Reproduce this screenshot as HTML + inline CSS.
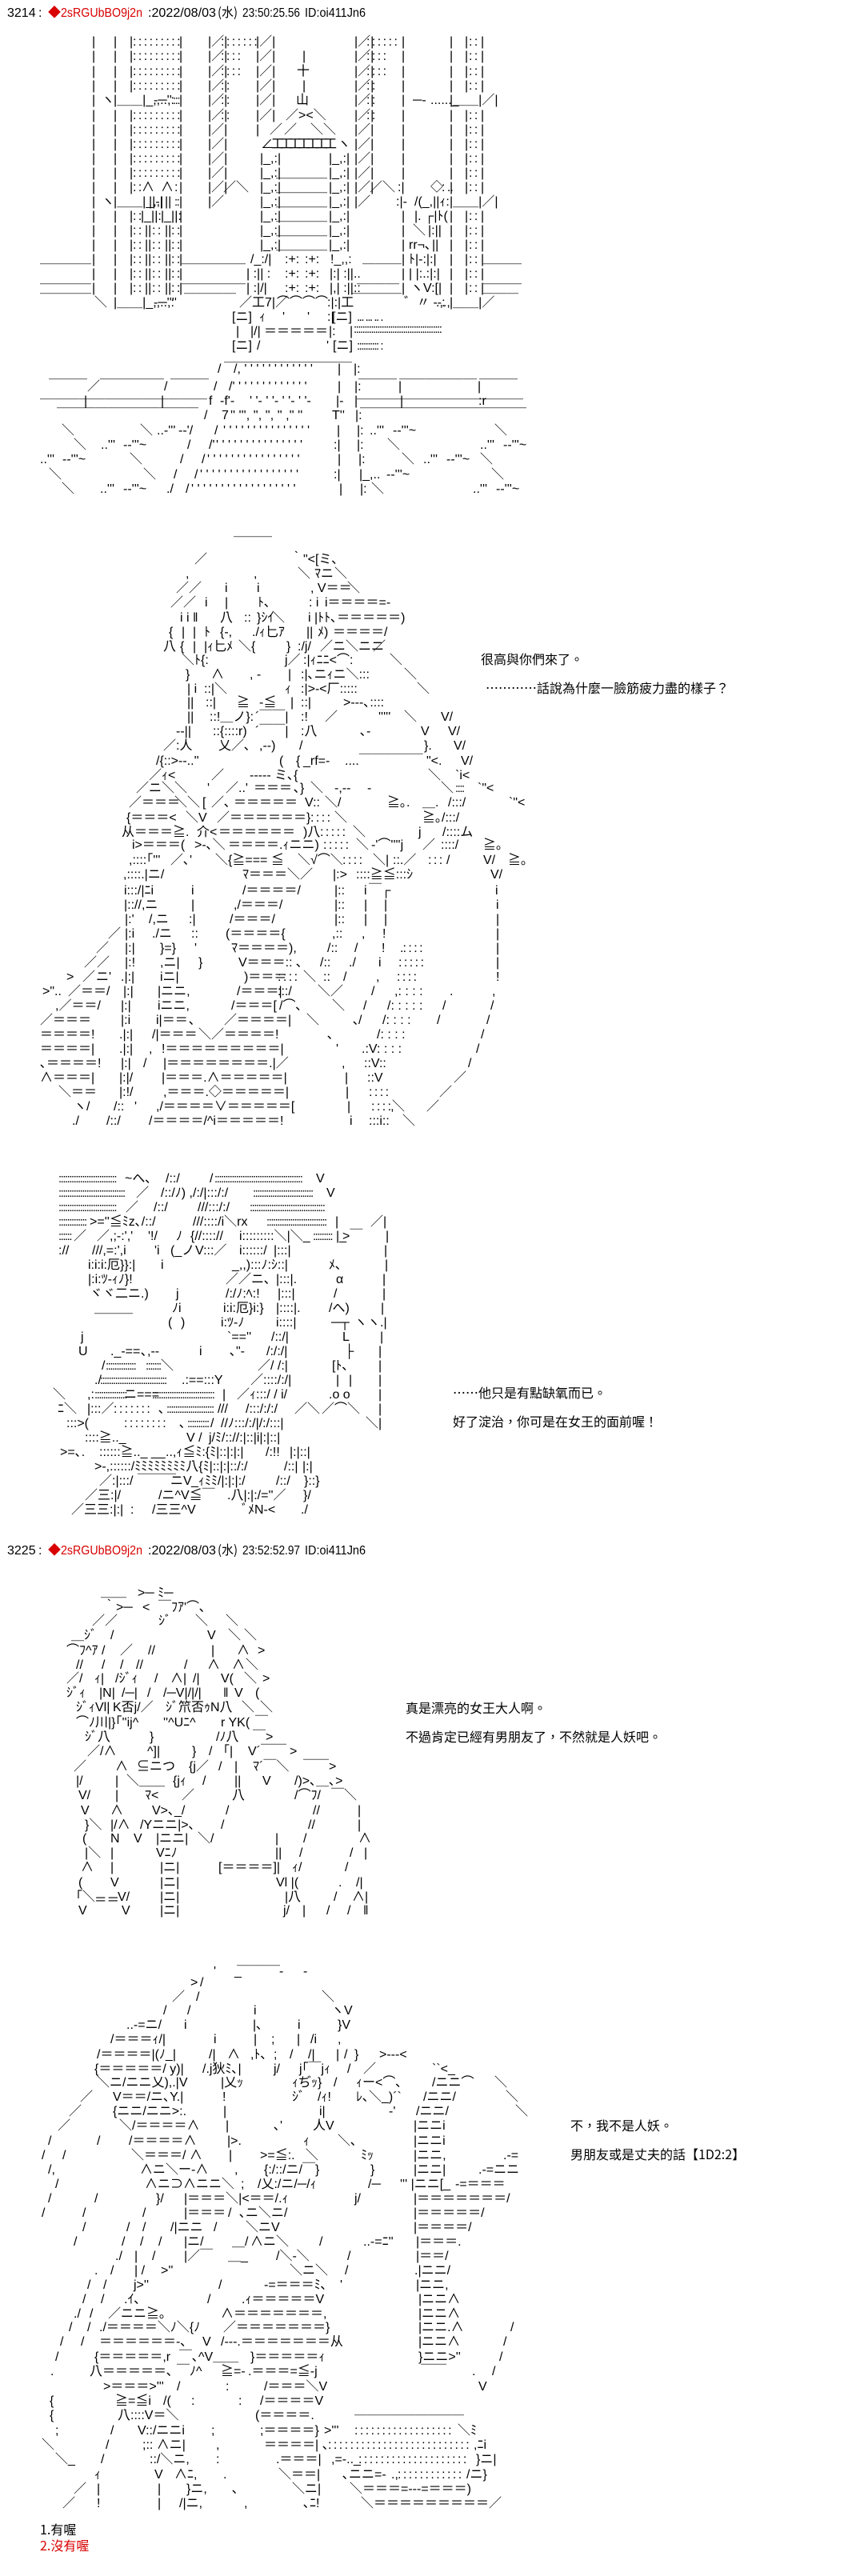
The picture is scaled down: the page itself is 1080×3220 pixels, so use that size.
<!DOCTYPE html>
<html lang="zh-Hant"><head><meta charset="utf-8"><title>3214-3225</title>
<style>
html,body{margin:0;padding:0;background:#fff}
svg{display:block;font-family:"Liberation Sans","Noto Sans CJK JP",sans-serif;font-size:16px;fill:#000;white-space:pre}
.d{letter-spacing:-1px}.e{letter-spacing:-1.5px;font-size:15px}.c{font-family:"Noto Sans CJK JP",sans-serif}
.t{font-family:"WenQuanYi Zen Hei","Noto Sans CJK TC",sans-serif}.r{fill:#d80000}
.s{letter-spacing:-5px}
</style></head><body>
<svg width="1080" height="3220" viewBox="0 0 1080 3220" xmlns="http://www.w3.org/2000/svg">
<!-- header 1 -->
<text y="21"><tspan x="9">3214</tspan><tspan x="48">:</tspan><tspan x="60" class="r">◆</tspan></text>
<text x="76" y="21" class="r" textLength="102" lengthAdjust="spacingAndGlyphs">2sRGUbBO9j2n</text>
<text x="185" y="21" textLength="85" lengthAdjust="spacingAndGlyphs">:2022/08/03</text>
<text x="272" y="21" class="c" textLength="25" lengthAdjust="spacingAndGlyphs">(水)</text>
<text x="303" y="21" textLength="72" lengthAdjust="spacingAndGlyphs">23:50:25.56</text>
<text x="381" y="21" textLength="76" lengthAdjust="spacingAndGlyphs">ID:oi411Jn6</text>

<!-- section 1: towers -->
<text y="57"><tspan x="115">|</tspan><tspan x="142">|</tspan><tspan x="162">|</tspan><tspan x="166" class="d">: : : : : : : : :</tspan><tspan x="224">|</tspan><tspan x="260">|／|</tspan><tspan x="276" class="d">: : : : : : :</tspan><tspan x="320">|／|</tspan><tspan x="443">|／|</tspan><tspan x="458" class="d">: : : : : :</tspan><tspan x="502">|</tspan><tspan x="562">|</tspan><tspan x="581">|</tspan><tspan x="586" class="d">: :</tspan><tspan x="601">|</tspan></text>
<text y="75"><tspan x="115">|</tspan><tspan x="142">|</tspan><tspan x="162">|</tspan><tspan x="166" class="d">: : : : : : : : :</tspan><tspan x="224">|</tspan><tspan x="260">|／|</tspan><tspan x="276" class="d">: : : :</tspan><tspan x="320">|／|</tspan><tspan x="378">|</tspan><tspan x="443">|／|</tspan><tspan x="458" class="d">: : : :</tspan><tspan x="502">|</tspan><tspan x="562">|</tspan><tspan x="581">|</tspan><tspan x="586" class="d">: :</tspan><tspan x="601">|</tspan></text>
<text y="94"><tspan x="115">|</tspan><tspan x="142">|</tspan><tspan x="162">|</tspan><tspan x="166" class="d">: : : : : : : : :</tspan><tspan x="224">|</tspan><tspan x="260">|／|</tspan><tspan x="276" class="d">: : : :</tspan><tspan x="320">|／|</tspan><tspan x="371">十</tspan><tspan x="443">|／|</tspan><tspan x="458" class="d">: : : :</tspan><tspan x="502">|</tspan><tspan x="562">|</tspan><tspan x="581">|</tspan><tspan x="586" class="d">: :</tspan><tspan x="601">|</tspan></text>
<text y="112"><tspan x="115">|</tspan><tspan x="142">|</tspan><tspan x="162">|</tspan><tspan x="166" class="d">: : : : : : : : :</tspan><tspan x="224">|</tspan><tspan x="260">|／|</tspan><tspan x="276" class="d">: :</tspan><tspan x="320">|／|</tspan><tspan x="378">|</tspan><tspan x="443">|／|</tspan><tspan x="458" class="d">: :</tspan><tspan x="502">|</tspan><tspan x="562">|</tspan><tspan x="581">|</tspan><tspan x="586" class="d">: :</tspan><tspan x="601">|</tspan></text>
<text y="130"><tspan x="115">|</tspan><tspan x="127">ヽ</tspan><tspan x="142">|＿＿|_,,..,:</tspan><tspan x="192">-─''</tspan><tspan x="216" class="e">:::</tspan><tspan x="224">|</tspan><tspan x="260">|／|</tspan><tspan x="276" class="d">: :</tspan><tspan x="320">|／|</tspan><tspan x="370">山</tspan><tspan x="443">|／|</tspan><tspan x="458" class="d">: :</tspan><tspan x="502">|</tspan><tspan x="516">─-</tspan><tspan x="538">......_</tspan><tspan x="562">|＿＿|／|</tspan></text>
<text y="149"><tspan x="115">|</tspan><tspan x="142">|</tspan><tspan x="162">|</tspan><tspan x="166" class="d">: : : : : : : : :</tspan><tspan x="224">|</tspan><tspan x="260">|／|</tspan><tspan x="276" class="d">: :</tspan><tspan x="320">|／|</tspan><tspan x="357">／&gt;&lt;＼</tspan><tspan x="443">|／|</tspan><tspan x="458" class="d">: :</tspan><tspan x="502">|</tspan><tspan x="562">|</tspan><tspan x="581">|</tspan><tspan x="586" class="d">: :</tspan><tspan x="601">|</tspan></text>
<text y="167"><tspan x="115">|</tspan><tspan x="142">|</tspan><tspan x="162">|</tspan><tspan x="166" class="d">: : : : : : : : :</tspan><tspan x="224">|</tspan><tspan x="260">|／|</tspan><tspan x="320">|</tspan><tspan x="337">／</tspan><tspan x="355">／</tspan><tspan x="388">＼＼</tspan><tspan x="443">|／|</tspan><tspan x="502">|</tspan><tspan x="562">|</tspan><tspan x="581">|</tspan><tspan x="586" class="d">: :</tspan><tspan x="601">|</tspan></text>
<text y="185"><tspan x="115">|</tspan><tspan x="142">|</tspan><tspan x="162">|</tspan><tspan x="166" class="d">: : : : : : : : :</tspan><tspan x="224">|</tspan><tspan x="260">|／|</tspan><tspan x="326">∠</tspan><tspan x="339" class="s">工工工工工工工</tspan><tspan x="422">ヽ</tspan><tspan x="443">|／|</tspan><tspan x="502">|</tspan><tspan x="562">|</tspan><tspan x="581">|</tspan><tspan x="586" class="d">: :</tspan><tspan x="601">|</tspan></text>
<text y="203"><tspan x="115">|</tspan><tspan x="142">|</tspan><tspan x="162">|</tspan><tspan x="166" class="d">: : : : : : : : :</tspan><tspan x="224">|</tspan><tspan x="260">|／|</tspan><tspan x="325">|_,:|</tspan><tspan x="411">|_,:|</tspan><tspan x="443">|／|</tspan><tspan x="502">|</tspan><tspan x="562">|</tspan><tspan x="581">|</tspan><tspan x="586" class="d">: :</tspan><tspan x="601">|</tspan></text>
<text y="221"><tspan x="115">|</tspan><tspan x="142">|</tspan><tspan x="162">|</tspan><tspan x="166" class="d">: : : : : : : : :</tspan><tspan x="224">|</tspan><tspan x="260">|／|</tspan><tspan x="325">|_,:|</tspan><tspan x="345">＿＿＿＿</tspan><tspan x="411">|_,:|</tspan><tspan x="443">|／|</tspan><tspan x="502">|</tspan><tspan x="562">|</tspan><tspan x="581">|</tspan><tspan x="586" class="d">: :</tspan><tspan x="601">|</tspan></text>
<text y="239"><tspan x="115">|</tspan><tspan x="142">|</tspan><tspan x="162">|</tspan><tspan x="166" class="d">: :</tspan><tspan x="177">∧</tspan><tspan x="201">∧</tspan><tspan x="218">:</tspan><tspan x="224">|</tspan><tspan x="260">|／|</tspan><tspan x="279">／＼</tspan><tspan x="325">|_,:|</tspan><tspan x="345">＿＿＿＿</tspan><tspan x="411">|_,:|</tspan><tspan x="443">|／|</tspan><tspan x="462">／＼</tspan><tspan x="497">:|</tspan><tspan x="538">◇</tspan><tspan x="552" class="d">: ..</tspan><tspan x="562">|</tspan><tspan x="581">|</tspan><tspan x="586" class="d">: :</tspan><tspan x="601">|</tspan></text>
<text y="257"><tspan x="115">|</tspan><tspan x="127">ヽ</tspan><tspan x="142">|＿＿|_,,|</tspan><tspan x="186">||-|</tspan><tspan x="206">||</tspan><tspan x="218" class="e">::</tspan><tspan x="224">|</tspan><tspan x="260">|／</tspan><tspan x="325">|_,:|</tspan><tspan x="345">＿＿＿＿</tspan><tspan x="411">|_,:|</tspan><tspan x="443">|／</tspan><tspan x="495">:|-</tspan><tspan x="518">/(_,||ｨ:</tspan><tspan x="562">|＿＿|／|</tspan></text>
<text y="275"><tspan x="115">|</tspan><tspan x="142">|</tspan><tspan x="162">|</tspan><tspan x="166" class="d">: :</tspan><tspan x="176">|_||:</tspan><tspan x="201">|_||:</tspan><tspan x="224">|</tspan><tspan x="325">|_,:|</tspan><tspan x="345">＿＿＿＿</tspan><tspan x="411">|_,:|</tspan><tspan x="502">|</tspan><tspan x="518">|. ┌|ﾄ(</tspan><tspan x="562">|</tspan><tspan x="581">|</tspan><tspan x="586" class="d">: :</tspan><tspan x="601">|</tspan></text>
<text y="293"><tspan x="115">|</tspan><tspan x="142">|</tspan><tspan x="162">|</tspan><tspan x="166" class="d">: :</tspan><tspan x="181">||</tspan><tspan x="190" class="d">: :</tspan><tspan x="206">||</tspan><tspan x="214" class="d">: :</tspan><tspan x="224">|</tspan><tspan x="325">|_,:|</tspan><tspan x="345">＿＿＿＿</tspan><tspan x="411">|_,:|</tspan><tspan x="502">|</tspan><tspan x="516">＼</tspan><tspan x="535">|:||</tspan><tspan x="562">|</tspan><tspan x="581">|</tspan><tspan x="586" class="d">: :</tspan><tspan x="601">|</tspan></text>
<text y="311"><tspan x="115">|</tspan><tspan x="142">|</tspan><tspan x="162">|</tspan><tspan x="166" class="d">: :</tspan><tspan x="181">||</tspan><tspan x="190" class="d">: :</tspan><tspan x="206">||</tspan><tspan x="214" class="d">: :</tspan><tspan x="224">|</tspan><tspan x="325">|_,:|</tspan><tspan x="345">＿＿＿＿</tspan><tspan x="411">|_,:|</tspan><tspan x="502">|</tspan><tspan x="511">rr¬､</tspan><tspan x="540">||</tspan><tspan x="562">|</tspan><tspan x="581">|</tspan><tspan x="586" class="d">: :</tspan><tspan x="601">|</tspan></text>
<text y="329"><tspan x="115">|</tspan><tspan x="142">|</tspan><tspan x="162">|</tspan><tspan x="166" class="d">: :</tspan><tspan x="181">||</tspan><tspan x="190" class="d">: :</tspan><tspan x="206">||</tspan><tspan x="214" class="d">: :</tspan><tspan x="224">|</tspan><tspan x="313">/_:/|</tspan><tspan x="356">:+:</tspan><tspan x="381">:+:</tspan><tspan x="413">!_,,:</tspan><tspan x="502">|</tspan><tspan x="511">ﾄ|-:|:|</tspan><tspan x="562">|</tspan><tspan x="581">|</tspan><tspan x="586" class="d">: :</tspan><tspan x="601">|</tspan></text>
<text y="347"><tspan x="115">|</tspan><tspan x="142">|</tspan><tspan x="162">|</tspan><tspan x="166" class="d">: :</tspan><tspan x="181">||</tspan><tspan x="190" class="d">: :</tspan><tspan x="206">||</tspan><tspan x="214" class="d">: :</tspan><tspan x="224">|</tspan><tspan x="308">| :|| :</tspan><tspan x="356">:+:</tspan><tspan x="381">:+:</tspan><tspan x="412">|:| :||..</tspan><tspan x="502">|</tspan><tspan x="511">| |:.:|:|</tspan><tspan x="562">|</tspan><tspan x="581">|</tspan><tspan x="586" class="d">: :</tspan><tspan x="601">|</tspan></text>
<text y="365"><tspan x="115">|</tspan><tspan x="142">|</tspan><tspan x="162">|</tspan><tspan x="166" class="d">: :</tspan><tspan x="181">||</tspan><tspan x="190" class="d">: :</tspan><tspan x="206">||</tspan><tspan x="214" class="d">: :</tspan><tspan x="224">|</tspan><tspan x="308">| :|/|</tspan><tspan x="356">:+:</tspan><tspan x="381">:+:</tspan><tspan x="412">|,| :||::</tspan><tspan x="502">|</tspan><tspan x="513">ヽV:[|</tspan><tspan x="562">|</tspan><tspan x="581">|</tspan><tspan x="586" class="d">: :</tspan><tspan x="601">|</tspan></text>
<text y="383"><tspan x="118">＼</tspan><tspan x="142">|＿＿|_,,..,:</tspan><tspan x="192">-─''''</tspan><tspan x="299">／工7|／</tspan><tspan x="346">⌒⌒⌒⌒</tspan><tspan x="409">:|:|工</tspan><tspan x="505">゛〃 --:</tspan><tspan x="545">.,.,</tspan><tspan x="562">|＿＿|／</tspan></text>
<text y="401"><tspan x="290">[ニ]</tspan><tspan x="324">ｨ</tspan><tspan x="353">'</tspan><tspan x="384">'</tspan><tspan x="409">:|</tspan><tspan x="415">[ニ]</tspan><tspan x="446" class="e">... ... .. .</tspan></text>
<text y="419"><tspan x="295">|</tspan><tspan x="313">|/|</tspan><tspan x="330">＝＝＝＝＝</tspan><tspan x="411">|:</tspan><tspan x="437">|</tspan></text>
<text x="442" y="416" class="e">:::::::::::::::::::::::::::::::::::::::::</text>
<text y="437"><tspan x="290">[ニ]</tspan><tspan x="321">/</tspan><tspan x="408">'</tspan><tspan x="416">[ニ]</tspan><tspan x="446" class="e">:::::::::: :</tspan></text>
<!-- horizontal rules -->
<text class="c" x="50" y="336" textLength="64" lengthAdjust="spacingAndGlyphs">────</text>
<text class="c" x="227" y="336" textLength="80" lengthAdjust="spacingAndGlyphs">─────</text>
<text class="c" x="453" y="336" textLength="49" lengthAdjust="spacingAndGlyphs">───</text>
<text class="c" x="604" y="336" textLength="48" lengthAdjust="spacingAndGlyphs">───</text>
<text class="c" x="50" y="361" textLength="64" lengthAdjust="spacingAndGlyphs">────</text>
<text class="c" x="227" y="361" textLength="80" lengthAdjust="spacingAndGlyphs">─────</text>
<text class="c" x="446" y="361" textLength="53" lengthAdjust="spacingAndGlyphs">───</text>
<text class="c" x="604" y="361" textLength="48" lengthAdjust="spacingAndGlyphs">───</text>
<text class="c" x="50" y="373" textLength="64" lengthAdjust="spacingAndGlyphs">────</text>
<text class="c" x="230" y="373" textLength="65" lengthAdjust="spacingAndGlyphs">────</text>
<text class="c" x="440" y="373" textLength="62" lengthAdjust="spacingAndGlyphs">────</text>
<text class="c" x="604" y="373" textLength="44" lengthAdjust="spacingAndGlyphs">───</text>
<text class="c" x="280" y="459" textLength="160" lengthAdjust="spacingAndGlyphs">──────────</text>
<text class="c" x="61" y="480" textLength="48" lengthAdjust="spacingAndGlyphs">───</text>
<text class="c" x="125" y="480" textLength="80" lengthAdjust="spacingAndGlyphs">─────</text>
<text class="c" x="213" y="480" textLength="48" lengthAdjust="spacingAndGlyphs">───</text>
<text class="c" x="448" y="480" textLength="48" lengthAdjust="spacingAndGlyphs">───</text>
<text class="c" x="499" y="480" textLength="97" lengthAdjust="spacingAndGlyphs">──────</text>
<text class="c" x="599" y="480" textLength="48" lengthAdjust="spacingAndGlyphs">───</text>
<text class="c" x="50" y="505" textLength="209" lengthAdjust="spacingAndGlyphs">─────────────</text>
<text class="c" x="446" y="505" textLength="208" lengthAdjust="spacingAndGlyphs">─────────────</text>
<text class="c" x="71" y="516" textLength="177" lengthAdjust="spacingAndGlyphs">───────────</text>
<text class="c" x="450" y="516" textLength="208" lengthAdjust="spacingAndGlyphs">─────────────</text>
<!-- road -->
<text y="466"><tspan x="272">/</tspan><tspan x="292">/, ' ' ' ' ' ' ' ' ' ' ' '</tspan><tspan x="422">|</tspan><tspan x="442">|:</tspan></text>
<text y="488"><tspan x="109">／</tspan><tspan x="205">/</tspan><tspan x="267">/</tspan><tspan x="286">/' ' ' ' ' ' ' ' ' ' ' ' '</tspan><tspan x="422">|</tspan><tspan x="443">|:</tspan><tspan x="498">|</tspan><tspan x="597">|</tspan></text>
<text y="506"><tspan x="261">f</tspan><tspan x="275">-f'-</tspan><tspan x="312">' '- ' '- ' '- ' '-</tspan><tspan x="420">|-</tspan><tspan x="443">|</tspan><tspan x="105">|</tspan><tspan x="201">|</tspan><tspan x="500">|</tspan><tspan x="598">:r</tspan></text>
<text y="524"><tspan x="255">/</tspan><tspan x="277">7</tspan><tspan x="288">'' ''', '', '', '' ,'' ''</tspan><tspan x="415">T''</tspan><tspan x="444">|:</tspan></text>
<text y="543"><tspan x="77">＼</tspan><tspan x="175">＼</tspan><tspan x="196">..-'''</tspan><tspan x="223">--'/</tspan><tspan x="268">/</tspan><tspan x="279">' ' ' ' ' ' ' ' ' ' ' ' ' ' '</tspan><tspan x="421">|</tspan><tspan x="446">|:</tspan><tspan x="462">..'''</tspan><tspan x="491">--'''~</tspan><tspan x="618">＼</tspan></text>
<text y="561"><tspan x="92">＼</tspan><tspan x="126">..'''</tspan><tspan x="154">--'''~</tspan><tspan x="234">/</tspan><tspan x="261">/'</tspan><tspan x="270">' ' ' ' ' ' ' ' ' ' ' ' ' ' '</tspan><tspan x="417">:|</tspan><tspan x="446">|:</tspan><tspan x="484">＼</tspan><tspan x="600">..'''</tspan><tspan x="629">--'''~</tspan></text>
<text y="579"><tspan x="50">..'''</tspan><tspan x="78">--'''~</tspan><tspan x="162">＼</tspan><tspan x="225">/</tspan><tspan x="252">/</tspan><tspan x="259">' ' ' ' ' ' ' ' ' ' ' ' ' ' ' '</tspan><tspan x="422">|</tspan><tspan x="448">|:</tspan><tspan x="502">＼</tspan><tspan x="529">..'''</tspan><tspan x="558">--'''~</tspan><tspan x="600">＼</tspan></text>
<text y="598"><tspan x="61">＼</tspan><tspan x="179">＼</tspan><tspan x="217">/</tspan><tspan x="243">/</tspan><tspan x="250">' ' ' ' ' ' ' ' ' ' ' ' ' ' ' ' '</tspan><tspan x="417">:|</tspan><tspan x="449">|_,..</tspan><tspan x="483">--'''~</tspan><tspan x="614">＼</tspan></text>
<text y="616"><tspan x="77">＼</tspan><tspan x="125">..'''</tspan><tspan x="154">--'''~</tspan><tspan x="208">./</tspan><tspan x="232">/</tspan><tspan x="239">' ' ' ' ' ' ' ' ' ' ' ' ' ' ' ' ' '</tspan><tspan x="424">|</tspan><tspan x="450">|:</tspan><tspan x="464">＼</tspan><tspan x="591">..'''</tspan><tspan x="620">--'''~</tspan></text>

<!-- section 2 -->
<text class="c" x="292" y="677" textLength="48" lengthAdjust="spacingAndGlyphs">───</text>
<text y="704"><tspan x="243">／</tspan><tspan x="363">｀"&lt;[ミ､</tspan></text>
<text y="722"><tspan x="232">,</tspan><tspan x="317">,</tspan><tspan x="372">＼</tspan><tspan x="393">ﾏニ</tspan><tspan x="418">＼</tspan></text>
<text y="740"><tspan x="220">／／</tspan><tspan x="281">i</tspan><tspan x="321">i</tspan><tspan x="388">, V＝＝</tspan><tspan x="434">＼</tspan></text>
<text y="758"><tspan x="213">／／</tspan><tspan x="256">i</tspan><tspan x="281">|</tspan><tspan x="322">ﾄ､</tspan><tspan x="386">: i</tspan><tspan x="406">i＝＝＝＝=-</tspan></text>
<text y="777"><tspan x="225">i i ‖</tspan><tspan x="275">八</tspan><tspan x="305">::</tspan><tspan x="321">}ｼｲ</tspan><tspan x="340">＼</tspan><tspan x="385">i |ﾄﾄ､＝＝＝＝＝)</tspan></text>
<text y="795"><tspan x="211">{</tspan><tspan x="227">|</tspan><tspan x="241">|</tspan><tspan x="255">ﾄ</tspan><tspan x="275">{-,</tspan><tspan x="315">./ｨ匕ｱ</tspan><tspan x="383">||</tspan><tspan x="397">ﾒ)</tspan><tspan x="416">＝＝＝＝</tspan><tspan x="480">/</tspan></text>
<text y="813"><tspan x="204">八</tspan><tspan x="225">{</tspan><tspan x="241">|</tspan><tspan x="255">|ｨ匕ﾒ</tspan><tspan x="298">＼{</tspan><tspan x="358">}</tspan><tspan x="372">:/j/</tspan><tspan x="400">／ニ＼ニニ</tspan><tspan x="466">／</tspan></text>
<text y="830"><tspan x="227">＼ﾄ{:</tspan><tspan x="356">j／</tspan><tspan x="379">:|ｨﾆﾆ&lt;⌒:</tspan><tspan x="487">＼</tspan></text>
<text y="848"><tspan x="232">}</tspan><tspan x="264">∧</tspan><tspan x="312">, -</tspan><tspan x="360">|</tspan><tspan x="376">:|､ニｨニ＼:::</tspan><tspan x="505">＼</tspan></text>
<text y="866"><tspan x="234">| i</tspan><tspan x="255">::|＼</tspan><tspan x="356">ｨ</tspan><tspan x="376">:|&gt;-&lt;厂:::::</tspan><tspan x="521">＼</tspan></text>
<text y="883"><tspan x="234">||</tspan><tspan x="257">::|</tspan><tspan x="296">≧</tspan><tspan x="324">-≦</tspan><tspan x="363">|</tspan><tspan x="376">::|</tspan><tspan x="429">&gt;---､::::</tspan></text>
<text y="901"><tspan x="234">||</tspan><tspan x="262">::!＿ノ}:</tspan><tspan x="319">´￣￣|</tspan><tspan x="376">:!</tspan><tspan x="406">／</tspan><tspan x="473">'''''</tspan><tspan x="505">＼</tspan><tspan x="551">V/</tspan></text>
<text y="919"><tspan x="220">--||</tspan><tspan x="266">::{::::r)</tspan><tspan x="319">´￣￣|</tspan><tspan x="376">:八</tspan><tspan x="450">､-</tspan><tspan x="526">V</tspan><tspan x="560">V/</tspan></text>
<text y="937"><tspan x="204">／:人</tspan><tspan x="273">乂／､</tspan><tspan x="324">,--)</tspan><tspan x="374">/</tspan><tspan x="530">}.</tspan><tspan x="567">V/</tspan></text>
<text y="956"><tspan x="195">/{::&gt;--..''</tspan><tspan x="349">(</tspan><tspan x="370">{</tspan><tspan x="379">_rf=-</tspan><tspan x="431">....￣￣￣￣￣</tspan><tspan x="533">"&lt;.</tspan><tspan x="576">V/</tspan></text>
<text y="974"><tspan x="186">／ｨ&lt;</tspan><tspan x="264">／</tspan><tspan x="312">----- ミ､{</tspan><tspan x="535">＼</tspan><tspan x="569">`i&lt;</tspan></text>
<text y="990"><tspan x="170">／ニ＼＼</tspan><tspan x="259">'</tspan><tspan x="282">／</tspan><tspan x="298">..'</tspan><tspan x="317">＝＝＝</tspan><tspan x="367">､}</tspan><tspan x="388">＼</tspan><tspan x="418">-,--</tspan><tspan x="459">-</tspan><tspan x="551">＼</tspan><tspan x="569" class="e">::::</tspan><tspan x="597">`"&lt;</tspan></text>
<text y="1008"><tspan x="161">／＝＝＝</tspan><tspan x="218">＼＼</tspan><tspan x="253">[</tspan><tspan x="264">／､</tspan><tspan x="292">＝＝＝＝＝</tspan><tspan x="381">V::</tspan><tspan x="406">＼/</tspan><tspan x="484">≧｡.</tspan><tspan x="528">＿.</tspan><tspan x="560">/:::/</tspan><tspan x="636">`"&lt;</tspan></text>
<text y="1027"><tspan x="158">{＝＝＝&lt;</tspan><tspan x="232">＼V</tspan><tspan x="271">／＝＝＝＝＝＝}</tspan><tspan x="388" class="d">: : : :</tspan><tspan x="418">＼</tspan><tspan x="528">≧｡/:::/</tspan></text>
<text y="1045"><tspan x="152">从＝＝＝≧.</tspan><tspan x="246">介&lt;</tspan><tspan x="273">＝＝＝＝＝＝</tspan><tspan x="379">)八</tspan><tspan x="400" class="d">: : : : :</tspan><tspan x="441">＼</tspan><tspan x="523">j</tspan><tspan x="553">/::::ム</tspan></text>
<text y="1061"><tspan x="165">i&gt;＝＝＝(</tspan><tspan x="243">&gt;-､＼</tspan><tspan x="285">＝＝＝＝.ｨニニ)</tspan><tspan x="404" class="d">: : : : :</tspan><tspan x="445">＼</tspan><tspan x="464">-'⌒''''j</tspan><tspan x="528">／</tspan><tspan x="551">::::/</tspan><tspan x="604">≧｡</tspan></text>
<text y="1080"><tspan x="161">,::::｢'''</tspan><tspan x="213">／､'</tspan><tspan x="269">＼{≧=== ≦</tspan><tspan x="372">＼√⌒＼</tspan><tspan x="428" class="d">: : : :</tspan><tspan x="466">＼|</tspan><tspan x="491">::.／</tspan><tspan x="535" class="d">: : :</tspan><tspan x="558">/</tspan><tspan x="604">V/</tspan><tspan x="635">≧｡</tspan></text>
<text y="1098"><tspan x="154">,::::.|ニ/</tspan><tspan x="303">ﾏ＝＝＝＼／</tspan><tspan x="416">|:&gt;</tspan><tspan x="445">::::≧≦:::ｼ</tspan><tspan x="613">V/</tspan></text>
<text y="1118"><tspan x="155">i:::/|ﾆi</tspan><tspan x="239">i</tspan><tspan x="303">/＝＝＝＝/</tspan><tspan x="418">|::</tspan><tspan x="455">i</tspan><tspan x="461">￣┌</tspan><tspan x="619">i</tspan></text>
<text y="1136"><tspan x="155">|:://,ニ</tspan><tspan x="239">|</tspan><tspan x="292">,/＝＝＝/</tspan><tspan x="418">|::</tspan><tspan x="455">|</tspan><tspan x="480">|</tspan><tspan x="620">i</tspan></text>
<text y="1154"><tspan x="156">|:'</tspan><tspan x="186">/,ニ</tspan><tspan x="236">:|</tspan><tspan x="287">/＝＝＝/</tspan><tspan x="418">|::</tspan><tspan x="455">|</tspan><tspan x="480">|</tspan><tspan x="620">|</tspan></text>
<text y="1172"><tspan x="135">／</tspan><tspan x="156">|:i</tspan><tspan x="190">./ニ</tspan><tspan x="239">::</tspan><tspan x="282">(＝＝＝＝{</tspan><tspan x="415">,::</tspan><tspan x="452">,</tspan><tspan x="478">!</tspan><tspan x="620">|</tspan></text>
<text y="1190"><tspan x="120">／</tspan><tspan x="156">|:|</tspan><tspan x="200">}=}</tspan><tspan x="243">'</tspan><tspan x="289">ﾏ＝＝＝＝),</tspan><tspan x="409">/::</tspan><tspan x="443">/</tspan><tspan x="477">!</tspan><tspan x="500" class="d">.: : : :</tspan><tspan x="620">|</tspan></text>
<text y="1208"><tspan x="105">／／</tspan><tspan x="156">|:!</tspan><tspan x="200">,ニ|</tspan><tspan x="248">}</tspan><tspan x="298">V＝＝＝::</tspan><tspan x="370">､</tspan><tspan x="400">/::</tspan><tspan x="436">./</tspan><tspan x="473">i</tspan><tspan x="498" class="d">: : : : :</tspan><tspan x="620">|</tspan></text>
<text y="1226"><tspan x="83">&gt;</tspan><tspan x="103">／</tspan><tspan x="120">ニ'</tspan><tspan x="151">.|:|</tspan><tspan x="200">iニ|</tspan><tspan x="305">)＝＝＝</tspan><tspan x="347" class="d">: : : :</tspan><tspan x="379">＼</tspan><tspan x="404">::</tspan><tspan x="429">/</tspan><tspan x="470">,</tspan><tspan x="496" class="d">: : : :</tspan><tspan x="620">!</tspan></text>
<text y="1244"><tspan x="53">&gt;"..</tspan><tspan x="85">／＝＝/</tspan><tspan x="154">|:|</tspan><tspan x="197">|ニニ,</tspan><tspan x="296">/＝＝＝|</tspan><tspan x="347">:::/</tspan><tspan x="397">＼</tspan><tspan x="413">／</tspan><tspan x="464">/</tspan><tspan x="493">,: : : :</tspan><tspan x="562">.</tspan><tspan x="615">,</tspan></text>
<text y="1262"><tspan x="69">,／＝＝/</tspan><tspan x="151">|:|</tspan><tspan x="197">iニニ,</tspan><tspan x="289">/＝＝＝[</tspan><tspan x="349">/⌒､</tspan><tspan x="415">＼</tspan><tspan x="454">/</tspan><tspan x="484">/: : : : :</tspan><tspan x="553">/</tspan><tspan x="613">/</tspan></text>
<text y="1280"><tspan x="50">／＝＝＝</tspan><tspan x="151">|:i</tspan><tspan x="195">i|＝＝</tspan><tspan x="236">､</tspan><tspan x="280">／＝＝＝＝|</tspan><tspan x="383">＼</tspan><tspan x="441">､</tspan><tspan x="448">/</tspan><tspan x="478">/: : : :</tspan><tspan x="546">/</tspan><tspan x="608">/</tspan></text>
<text y="1298"><tspan x="50">＝＝＝＝!</tspan><tspan x="149">.|:|</tspan><tspan x="190">/|＝＝＝</tspan><tspan x="248">＼／</tspan><tspan x="280">＝＝＝＝!</tspan><tspan x="409">､</tspan><tspan x="471">/: : : :</tspan><tspan x="601">/</tspan></text>
<text y="1316"><tspan x="50">＝＝＝＝|</tspan><tspan x="149">.|:|</tspan><tspan x="186">,</tspan><tspan x="202">!＝＝＝＝＝＝＝＝＝|</tspan><tspan x="420">'</tspan><tspan x="452">.:V: : : :</tspan><tspan x="595">/</tspan></text>
<text y="1334"><tspan x="50">､＝＝＝＝!</tspan><tspan x="151">|:|</tspan><tspan x="179">/</tspan><tspan x="204">|＝＝＝＝＝＝＝＝.|／</tspan><tspan x="427">,</tspan><tspan x="455">::V::</tspan><tspan x="585">/</tspan></text>
<text y="1352"><tspan x="50">∧＝＝＝|</tspan><tspan x="149">|:|/</tspan><tspan x="202">|＝＝＝.∧＝＝＝＝＝|</tspan><tspan x="431">|</tspan><tspan x="459">::V</tspan><tspan x="567">／</tspan></text>
<text y="1370"><tspan x="73">＼＝＝</tspan><tspan x="149">|:!/</tspan><tspan x="204">,＝＝＝.◇＝＝＝＝＝|</tspan><tspan x="432">|</tspan><tspan x="461" class="d">: : : :</tspan><tspan x="549">／</tspan></text>
<text y="1388"><tspan x="92">ヽ/</tspan><tspan x="142">/::</tspan><tspan x="168">'</tspan><tspan x="195">,/＝＝＝＝∨＝＝＝＝＝[</tspan><tspan x="434">|</tspan><tspan x="464" class="d">: : : :,</tspan><tspan x="490">＼</tspan><tspan x="533">／</tspan></text>
<text y="1406"><tspan x="90">./</tspan><tspan x="133">/::/</tspan><tspan x="186">/＝＝＝＝/^i＝＝＝＝＝!</tspan><tspan x="437">i</tspan><tspan x="461">:::i::</tspan><tspan x="503">＼</tspan></text>
<text class="t" x="601" y="830">很高與你們來了。</text>
<text class="t" x="607" y="866">…………話說為什麼一臉筋疲力盡的樣子？</text>

<!-- section 3 -->
<text y="1478"><tspan x="73" class="e">:::::::::::::::::::::::::::</tspan><tspan x="156">~へ､</tspan><tspan x="207">/::/</tspan><tspan x="262">/</tspan><tspan x="268" class="e">:::::::::::::::::::::::::::::::::::::::::</tspan><tspan x="395">V</tspan></text>
<text y="1496"><tspan x="73" class="e">:::::::::::::::::::::::::::::::</tspan><tspan x="170">／</tspan><tspan x="201">/::/ﾉ) ,/:/|:::/:/</tspan><tspan x="316" class="e">::::::::::::::::::::::::::::</tspan><tspan x="408">V</tspan></text>
<text y="1514"><tspan x="73" class="e">:::::::::::::::::::::::::::</tspan><tspan x="157">／</tspan><tspan x="192">/::/</tspan><tspan x="247">///:::/:/</tspan><tspan x="312" class="e">:::::::::::::::::::::::::::::::::::</tspan></text>
<text y="1532"><tspan x="73" class="e">:::::::::::::</tspan><tspan x="112">&gt;=''≦ﾐz､/::/</tspan><tspan x="241">///::::/i＼rx</tspan><tspan x="333" class="e">::::::::::::::::::::::::::::</tspan><tspan x="419">|</tspan><tspan x="463">／|</tspan></text>
<text y="1550"><tspan x="73" class="e">::::::</tspan><tspan x="92">／</tspan><tspan x="121">／,;-:','</tspan><tspan x="185">'!/</tspan><tspan x="220">ﾉ</tspan><tspan x="238">{//:::://</tspan><tspan x="299">i:::::::::＼|＼_</tspan><tspan x="391" class="e">:::::::::</tspan><tspan x="420">|_</tspan><tspan x="428">&gt;￣</tspan><tspan x="482">|</tspan></text>
<text y="1568"><tspan x="73">://</tspan><tspan x="115">///,=:',i</tspan><tspan x="193">'i</tspan><tspan x="213">(_ノ</tspan><tspan x="244">V:::／</tspan><tspan x="299">i::::::/</tspan><tspan x="342">|:::|</tspan><tspan x="480">|</tspan></text>
<text y="1586"><tspan x="110">i:i:i:厄}}:|</tspan><tspan x="201">i</tspan><tspan x="290">_,,):::ﾉ:ｼ::|</tspan><tspan x="411">ﾒ､</tspan><tspan x="481">|</tspan></text>
<text y="1604"><tspan x="110">|:i:ﾂ-ｨﾉ}!</tspan><tspan x="282">／／ニ､</tspan><tspan x="345">|:::|.</tspan><tspan x="420">α</tspan><tspan x="478">|</tspan></text>
<text y="1622"><tspan x="112">ヾヾ二ニ.)</tspan><tspan x="220">j</tspan><tspan x="282">/:/ﾉ:ﾍ:!</tspan><tspan x="347">|:::|</tspan><tspan x="417">/</tspan><tspan x="478">|</tspan></text>
<text y="1640"><tspan x="118">＿＿＿</tspan><tspan x="215">ﾉi</tspan><tspan x="279">i:i:厄}i:}</tspan><tspan x="345">|::::|.</tspan><tspan x="411">/へ)</tspan><tspan x="476">|</tspan></text>
<text y="1658"><tspan x="210">(</tspan><tspan x="226">)</tspan><tspan x="276">i:ﾂ-ﾉ</tspan><tspan x="345">i::::|</tspan><tspan x="414">─┬</tspan><tspan x="443">ヽヽ</tspan><tspan x="475">.|</tspan></text>
<text y="1676"><tspan x="101">j</tspan><tspan x="284">`==''</tspan><tspan x="339">/::/|</tspan><tspan x="428">L</tspan><tspan x="475">|</tspan></text>
<text y="1694"><tspan x="98">U</tspan><tspan x="138">._-==</tspan><tspan x="176">､,--</tspan><tspan x="249">i</tspan><tspan x="287">､"-</tspan><tspan x="333">/:/:/|</tspan><tspan x="431">├</tspan><tspan x="473">|</tspan></text>
<text y="1712"><tspan x="127">/</tspan><tspan x="132" class="e">::::::::::::::</tspan><tspan x="182" class="e">:::::::</tspan><tspan x="201">＼</tspan><tspan x="322">／/ /:|</tspan><tspan x="415">[ﾄ､</tspan><tspan x="473">|</tspan></text>
<text y="1730"><tspan x="118">./</tspan><tspan x="125" class="e">:::::::::::::::::::::::::::::::</tspan><tspan x="227">.:==:::Y</tspan><tspan x="313">／::::/:/|</tspan><tspan x="420">|</tspan><tspan x="436">|</tspan><tspan x="473">|</tspan></text>
<text y="1748"><tspan x="66">＼</tspan><tspan x="109">,:</tspan><tspan x="118" class="e">:::::::::::::::</tspan><tspan x="155">ニ===</tspan><tspan x="190" class="e">:::::::::::::::::::::::::::::</tspan><tspan x="278">|</tspan><tspan x="296">／ｨ:::/ / i/</tspan><tspan x="411">.o o</tspan><tspan x="473">|</tspan></text>
<text y="1766"><tspan x="72">ﾆ＼</tspan><tspan x="109">|:::／</tspan><tspan x="142" class="d">: : : : : : :</tspan><tspan x="198">､</tspan><tspan x="208" class="e">::::::::::::::::::::::</tspan><tspan x="272">/</tspan><tspan x="276">//</tspan><tspan x="307">/:::/:/:/</tspan><tspan x="368">／＼</tspan><tspan x="402">／⌒＼</tspan><tspan x="473">|</tspan></text>
<text y="1784"><tspan x="83">:::&gt;(</tspan><tspan x="155" class="d">: : : : : : : :</tspan><tspan x="224">､</tspan><tspan x="234" class="e">::::::::::</tspan><tspan x="263">/</tspan><tspan x="276">//ﾉ:::/:/|/:/:::|</tspan><tspan x="457">＼|</tspan></text>
<text y="1802"><tspan x="106">::::≧.._</tspan><tspan x="233">V /</tspan><tspan x="261">j/ﾐ/:://:|::|i|:|::|</tspan></text>
<text y="1820"><tspan x="75">&gt;=､.</tspan><tspan x="124">::::::≧.._ __</tspan><tspan x="207">..,ｨ≦ﾐ:{ﾐ|::|:|:|</tspan><tspan x="332">/:!!</tspan><tspan x="362">|:|::|</tspan></text>
<text y="1838"><tspan x="118">&gt;-,::::::/ﾐﾐﾐﾐﾐﾐﾐﾐ八{ﾐ|::|:|::/:/</tspan><tspan x="355">/::|</tspan><tspan x="378">|:|</tspan></text>
<text y="1856"><tspan x="124">／:|:::/</tspan><tspan x="172">￣￣￣</tspan><tspan x="213">ニV</tspan><tspan x="239">_ｨﾐﾐ/|:|:|:/</tspan><tspan x="345">/::/</tspan><tspan x="380">}::}</tspan></text>
<text y="1874"><tspan x="106">／三:|/</tspan><tspan x="198">/ニ^V≦￣</tspan><tspan x="284">.八|:|:/=''／</tspan><tspan x="379">}/</tspan></text>
<text y="1892"><tspan x="89">／三三:|:|</tspan><tspan x="163">:</tspan><tspan x="190">/三三^V</tspan><tspan x="302">ﾞﾒN-&lt;</tspan><tspan x="376">./</tspan></text>
<text class="t" x="566" y="1747">……他只是有點缺氧而已。</text>
<text class="t" x="566" y="1783">好了淀治，你可是在女王的面前喔！</text>

<!-- header 2 -->
<text y="1943"><tspan x="9">3225</tspan><tspan x="48">:</tspan><tspan x="60" class="r">◆</tspan></text>
<text x="76" y="1943" class="r" textLength="102" lengthAdjust="spacingAndGlyphs">2sRGUbBO9j2n</text>
<text x="185" y="1943" textLength="85" lengthAdjust="spacingAndGlyphs">:2022/08/03</text>
<text x="272" y="1943" class="c" textLength="25" lengthAdjust="spacingAndGlyphs">(水)</text>
<text x="303" y="1943" textLength="72" lengthAdjust="spacingAndGlyphs">23:52:52.97</text>
<text x="381" y="1943" textLength="76" lengthAdjust="spacingAndGlyphs">ID:oi411Jn6</text>

<!-- section 4 -->
<text y="1996"><tspan x="172">&gt;─ ﾐ─</tspan></text>
<text class="c" x="126" y="2003" textLength="32" lengthAdjust="spacingAndGlyphs">──</text>
<text y="2014"><tspan x="129">｀&gt;─</tspan><tspan x="178">&lt;</tspan><tspan x="198">￣ﾌｱ'⌒､</tspan></text>
<text y="2031"><tspan x="115">／／</tspan><tspan x="198">ｼﾞ</tspan><tspan x="244">＼</tspan><tspan x="282">＼</tspan></text>
<text y="2049"><tspan x="89">＿ｼﾞ</tspan><tspan x="138">/</tspan><tspan x="259">V</tspan><tspan x="285">＼</tspan><tspan x="305">＼</tspan></text>
<text y="2068"><tspan x="83">⌒ﾌ^ｱ</tspan><tspan x="127">/</tspan><tspan x="150">／</tspan><tspan x="185">//</tspan><tspan x="264">|</tspan><tspan x="296">∧</tspan><tspan x="322">&gt;</tspan></text>
<text y="2086"><tspan x="95">//</tspan><tspan x="127">/</tspan><tspan x="150">/</tspan><tspan x="170">//</tspan><tspan x="230">/</tspan><tspan x="259">∧</tspan><tspan x="290">∧</tspan><tspan x="307">＼</tspan></text>
<text y="2103"><tspan x="83">／/</tspan><tspan x="118">ｨ|</tspan><tspan x="144">/ｼﾞｨ</tspan><tspan x="193">/</tspan><tspan x="213">∧|</tspan><tspan x="241">/|</tspan><tspan x="276">V(</tspan><tspan x="305">＼</tspan><tspan x="328">&gt;</tspan></text>
<text y="2121"><tspan x="83">ｼﾞｨ</tspan><tspan x="124">|N|</tspan><tspan x="152">/─|</tspan><tspan x="184">/</tspan><tspan x="204">/─V|/|/|</tspan><tspan x="279">‖</tspan><tspan x="293">V</tspan><tspan x="319">(</tspan></text>
<text y="2139"><tspan x="95">ｼﾞｨVl|</tspan><tspan x="141">K否j/／</tspan><tspan x="207">ｼﾞ笊否ｩN八</tspan><tspan x="302">＼</tspan><tspan x="325">＼</tspan></text>
<text y="2158"><tspan x="95">⌒ﾉ川|}｢''ij^</tspan><tspan x="204">''^Uﾆ^</tspan><tspan x="276">r YK(</tspan><tspan x="319">￣</tspan></text>
<text y="2176"><tspan x="106">ｼﾞ八</tspan><tspan x="187">}</tspan><tspan x="270">/ﾉ八</tspan><tspan x="316">￣&gt;</tspan></text>
<text y="2194"><tspan x="109">／/∧</tspan><tspan x="184">^]|</tspan><tspan x="240">}</tspan><tspan x="261">/</tspan><tspan x="279">｢|</tspan><tspan x="310">V´￣￣</tspan><tspan x="362">&gt;</tspan></text>
<text y="2213"><tspan x="92">／</tspan><tspan x="144">∧</tspan><tspan x="171">⊆ニつ</tspan><tspan x="236">{j／</tspan><tspan x="273">/</tspan><tspan x="293">|</tspan><tspan x="316">ﾏ´￣＼</tspan><tspan x="379">￣￣&gt;</tspan></text>
<text y="2231"><tspan x="95">|/</tspan><tspan x="144">|</tspan><tspan x="158">＼＿＿</tspan><tspan x="216">{jｨ</tspan><tspan x="253">/</tspan><tspan x="293">||</tspan><tspan x="328">V</tspan><tspan x="368">/)&gt;､＿､&gt;</tspan></text>
<text y="2249"><tspan x="98">V/</tspan><tspan x="144">|</tspan><tspan x="181">ﾏ&lt;</tspan><tspan x="227">／</tspan><tspan x="290">八</tspan><tspan x="368">/⌒ﾌ/</tspan><tspan x="414">￣＼</tspan></text>
<text y="2268"><tspan x="101">V</tspan><tspan x="138">∧</tspan><tspan x="190">V&gt;､_/</tspan><tspan x="282">/</tspan><tspan x="391">//</tspan><tspan x="447">|</tspan></text>
<text y="2286"><tspan x="106">}＼</tspan><tspan x="138">|/∧</tspan><tspan x="175">/Yニニ|&gt;､</tspan><tspan x="276">/</tspan><tspan x="385">//</tspan><tspan x="447">|</tspan></text>
<text y="2303"><tspan x="103">(</tspan><tspan x="138">N</tspan><tspan x="167">V</tspan><tspan x="195">|ニニ|</tspan><tspan x="247">＼/</tspan><tspan x="344">|</tspan><tspan x="379">/</tspan><tspan x="448">∧</tspan></text>
<text y="2321"><tspan x="106">|＼</tspan><tspan x="138">|</tspan><tspan x="195">Vﾆﾉ</tspan><tspan x="344">||</tspan><tspan x="374">/</tspan><tspan x="437">/</tspan><tspan x="455">|</tspan></text>
<text y="2339"><tspan x="101">∧</tspan><tspan x="138">|</tspan><tspan x="200">|ニ|</tspan><tspan x="273">[＝＝＝＝]|</tspan><tspan x="365">ｨ/</tspan><tspan x="431">/</tspan></text>
<text y="2358"><tspan x="98">(</tspan><tspan x="138">V</tspan><tspan x="200">|ニ|</tspan><tspan x="345">Vl |(</tspan><tspan x="423">.</tspan><tspan x="445">/|</tspan></text>
<text y="2376"><tspan x="95">｢＼</tspan><tspan x="147">V/</tspan><tspan x="200">|ニ|</tspan><tspan x="356">|八</tspan><tspan x="417">/</tspan><tspan x="440">∧|</tspan></text>
<text class="c" x="118" y="2380" textLength="31" lengthAdjust="spacingAndGlyphs">＝＝</text>
<text y="2393"><tspan x="98">V</tspan><tspan x="152">V</tspan><tspan x="200">|ニ|</tspan><tspan x="354">j/</tspan><tspan x="378">|</tspan><tspan x="408">/</tspan><tspan x="434">/</tspan><tspan x="454">‖</tspan></text>
<text class="t" x="507" y="2141">真是漂亮的女王大人啊。</text>
<text class="t" x="507" y="2177">不過肯定已經有男朋友了，不然就是人妖吧。</text>

<!-- section 5 -->
<text class="c" x="296" y="2463" textLength="54" lengthAdjust="spacingAndGlyphs">───</text>
<text y="2469"><tspan x="293">_</tspan><tspan x="349">-</tspan><tspan x="267">'</tspan><tspan x="379">-</tspan></text>
<text y="2483"><tspan x="238">&gt;</tspan><tspan x="250">/</tspan></text>
<text y="2501"><tspan x="215">／</tspan><tspan x="245">/</tspan><tspan x="402">＼</tspan></text>
<text y="2518"><tspan x="204">/</tspan><tspan x="234">/</tspan><tspan x="317">i</tspan><tspan x="414">ヽV</tspan></text>
<text y="2536"><tspan x="158">..-=ニ/</tspan><tspan x="230">i</tspan><tspan x="316">|､</tspan><tspan x="372">i</tspan><tspan x="422">}V</tspan></text>
<text y="2554"><tspan x="138">/＝＝＝ｨ/|</tspan><tspan x="267">i</tspan><tspan x="317">|</tspan><tspan x="339">;</tspan><tspan x="371">|</tspan><tspan x="388">/i</tspan><tspan x="422">,</tspan></text>
<text y="2573"><tspan x="121">/＝＝＝＝|(ﾉ_|</tspan><tspan x="261">/|</tspan><tspan x="284">∧</tspan><tspan x="313">,ﾄ､</tspan><tspan x="342">;</tspan><tspan x="362">/</tspan><tspan x="385">/|</tspan><tspan x="420">|</tspan><tspan x="430">/</tspan><tspan x="443">}</tspan><tspan x="474">&gt;---&lt;</tspan></text>
<text y="2591"><tspan x="118">{＝＝＝＝＝/ y)|</tspan><tspan x="253">/.j狄ﾐ､|</tspan><tspan x="342">j/</tspan><tspan x="374">j｢￣jｨ</tspan><tspan x="434">/</tspan><tspan x="454">／</tspan><tspan x="540">``&lt;_</tspan></text>
<text y="2608"><tspan x="121">＼ニ/ニニ乂),.|V</tspan><tspan x="276">|乂ｯ</tspan><tspan x="365">ｨぢｯ}</tspan><tspan x="417">/</tspan><tspan x="445">ｨー&lt;⌒､</tspan><tspan x="540">/ニニ⌒</tspan><tspan x="618">＼</tspan></text>
<text y="2626"><tspan x="100">／</tspan><tspan x="141">V＝＝/ニ､Y.|</tspan><tspan x="278">!</tspan><tspan x="365">ｼﾞ</tspan><tspan x="397">/ｨ!</tspan><tspan x="445">ﾚ､＼_)´`</tspan><tspan x="529">/ニニ/</tspan><tspan x="632">＼</tspan></text>
<text y="2644"><tspan x="86">／</tspan><tspan x="141">{ニニ/ニニ&gt;:.</tspan><tspan x="279">|</tspan><tspan x="399">i|</tspan><tspan x="486">-'</tspan><tspan x="520">/ニニ/</tspan><tspan x="644">＼</tspan></text>
<text y="2662"><tspan x="72">／</tspan><tspan x="149">＼/＝＝＝＝∧</tspan><tspan x="282">|</tspan><tspan x="342">､'</tspan><tspan x="391">人V</tspan><tspan x="517">|ニニi</tspan></text>
<text y="2681"><tspan x="60">/</tspan><tspan x="121">/</tspan><tspan x="161">/＝＝＝＝∧</tspan><tspan x="284">|&gt;.</tspan><tspan x="379">ｨ</tspan><tspan x="422">＼､</tspan><tspan x="517">|ニニi</tspan></text>
<text y="2699"><tspan x="52">/</tspan><tspan x="78">/</tspan><tspan x="164">＼＝＝＝/ ∧</tspan><tspan x="286">|</tspan><tspan x="325">&gt;=≦:.</tspan><tspan x="382">＼</tspan><tspan x="451">ﾐｯ</tspan><tspan x="517">|ニニ,</tspan><tspan x="629">.-=</tspan></text>
<text y="2717"><tspan x="60">/,</tspan><tspan x="175">∧ニ＼ー-∧</tspan><tspan x="293">,</tspan><tspan x="330">{:/::/ニ/￣}</tspan><tspan x="463">}</tspan><tspan x="517">|ニニ|</tspan><tspan x="598">.-=ニニ</tspan></text>
<text y="2735"><tspan x="69">/</tspan><tspan x="181">∧ニ⊃∧ニニ＼</tspan><tspan x="301">;</tspan><tspan x="322">/乂:/ニ/─/ｨ</tspan><tspan x="460">/─</tspan><tspan x="500">''' |ニニ[_</tspan><tspan x="569">-=＝＝＝</tspan></text>
<text y="2753"><tspan x="60">/</tspan><tspan x="118">/</tspan><tspan x="195">}/</tspan><tspan x="230">|＝＝＝＼|&lt;＝＝/.ｨ</tspan><tspan x="443">j/</tspan><tspan x="517">|＝＝＝＝＝＝＝/</tspan></text>
<text y="2771"><tspan x="52">/</tspan><tspan x="103">/</tspan><tspan x="178">/</tspan><tspan x="230">|＝＝＝</tspan><tspan x="285">/</tspan><tspan x="299">､ニ＼ニ/</tspan><tspan x="517">|＝＝＝＝＝/</tspan></text>
<text y="2789"><tspan x="103">/</tspan><tspan x="158">/</tspan><tspan x="178">/</tspan><tspan x="213">/|ニニ</tspan><tspan x="267">/</tspan><tspan x="307">＼ニV</tspan><tspan x="517">|＝＝＝＝/</tspan></text>
<text y="2807"><tspan x="92">/</tspan><tspan x="152">/</tspan><tspan x="175">/</tspan><tspan x="198">/</tspan><tspan x="230">|ニ/</tspan><tspan x="290">＿/</tspan><tspan x="313">∧ニ＼</tspan><tspan x="399">/</tspan><tspan x="454">..-=ﾆ''</tspan><tspan x="520">|＝＝＝.</tspan></text>
<text y="2825"><tspan x="144">./</tspan><tspan x="168">|</tspan><tspan x="190">/</tspan><tspan x="230">|／￣</tspan><tspan x="285">＿_</tspan><tspan x="345">/＼-＼</tspan><tspan x="434">/</tspan><tspan x="520">|＝＝/</tspan></text>
<text y="2843"><tspan x="118">.</tspan><tspan x="138">/</tspan><tspan x="168">| /</tspan><tspan x="201">&gt;''</tspan><tspan x="362">＼ニ＼</tspan><tspan x="431">/</tspan><tspan x="518">.|ニニ/</tspan></text>
<text y="2861"><tspan x="109">/</tspan><tspan x="129">/</tspan><tspan x="167">j&gt;''</tspan><tspan x="273">/</tspan><tspan x="330">-=＝＝＝ﾐ､</tspan><tspan x="425">'</tspan><tspan x="520">|ニニ,</tspan></text>
<text y="2879"><tspan x="103">/</tspan><tspan x="126">/</tspan><tspan x="155">.ｲ､</tspan><tspan x="259">/</tspan><tspan x="302">.ｨ＝＝＝＝＝V</tspan><tspan x="523">|ニニ∧</tspan></text>
<text y="2897"><tspan x="92">./</tspan><tspan x="112">/</tspan><tspan x="135">／ニニ≧｡</tspan><tspan x="276">∧＝＝＝＝＝＝＝,</tspan><tspan x="523">|ニニ∧</tspan></text>
<text y="2914"><tspan x="86">/</tspan><tspan x="109">/</tspan><tspan x="124">./＝＝＝＝＼ﾉ＼{ﾉ</tspan><tspan x="279">／＝＝＝＝＝＝＝}</tspan><tspan x="523">|ニニ.∧</tspan><tspan x="638">/</tspan></text>
<text y="2932"><tspan x="75">/</tspan><tspan x="101">/</tspan><tspan x="124">＝＝＝＝＝＝-､</tspan><tspan x="253">V</tspan><tspan x="276">/---.＝＝＝＝＝＝＝从</tspan><tspan x="523">|ニニ∧</tspan><tspan x="629">/</tspan></text>
<text y="2951"><tspan x="69">/</tspan><tspan x="118">{＝＝＝＝＝,r</tspan><tspan x="224">￣､^V＿＿</tspan><tspan x="313">}＝＝＝＝＝ｨ</tspan><tspan x="523">}ニニ&gt;''</tspan><tspan x="624">/</tspan></text>
<text y="2969"><tspan x="63">.</tspan><tspan x="112">八＝＝＝＝＝､</tspan><tspan x="221">￣ﾉ^</tspan><tspan x="276">≧=-</tspan><tspan x="310">.＝＝＝=≦-j</tspan><tspan x="526">￣￣</tspan><tspan x="590">.</tspan><tspan x="615">/</tspan></text>
<text y="2988"><tspan x="129">&gt;＝＝＝&gt;'''</tspan><tspan x="221">/</tspan><tspan x="282">:</tspan><tspan x="330">/＝＝＝＼V</tspan><tspan x="598">V</tspan></text>
<text y="3006"><tspan x="62">{</tspan><tspan x="144">≧=≦i</tspan><tspan x="204">/(</tspan><tspan x="239">:</tspan><tspan x="298">:</tspan><tspan x="325">/＝＝＝＝V</tspan></text>
<text y="3024"><tspan x="62">{</tspan><tspan x="147">八::::V＝＼</tspan><tspan x="319">(＝＝＝＝.</tspan></text>
<text class="c" x="443" y="3025" textLength="137" lengthAdjust="spacingAndGlyphs">─────────</text>
<text y="3043"><tspan x="69">;</tspan><tspan x="138">/</tspan><tspan x="172">V::/ニニi</tspan><tspan x="264">;</tspan><tspan x="325">;＝＝＝＝}</tspan><tspan x="405">&gt;'''</tspan><tspan x="443" class="d">: : : : : : : : : : : : : : : : : :</tspan><tspan x="572">＼ﾐ</tspan></text>
<text y="3061"><tspan x="52">＼</tspan><tspan x="132">/</tspan><tspan x="178">;:: ∧ニ|</tspan><tspan x="270">,</tspan><tspan x="330">＝＝＝＝|</tspan><tspan x="403">､</tspan><tspan x="410" class="d">: : : : : : : : : : : : : : : : : : : : : : : : : :</tspan><tspan x="592">,ﾆi</tspan></text>
<text y="3079"><tspan x="69">＼_</tspan><tspan x="126">/</tspan><tspan x="187">::/＼ニ,</tspan><tspan x="270">:</tspan><tspan x="345">.＝＝＝|</tspan><tspan x="414">,=-.._</tspan><tspan x="448" class="d">: : : : : : : : : : : : : : : : : : : :</tspan><tspan x="595">}ニ|</tspan></text>
<text y="3098"><tspan x="118">ｨ</tspan><tspan x="193">V</tspan><tspan x="218">∧ﾆ,</tspan><tspan x="279">.</tspan><tspan x="348">＼＝＝|</tspan><tspan x="428">､ニニ=-</tspan><tspan x="489">.,</tspan><tspan x="497" class="d">: : : : : : : : : : : :</tspan><tspan x="583">/ニ}</tspan></text>
<text y="3116"><tspan x="92">／</tspan><tspan x="121">|</tspan><tspan x="197">|</tspan><tspan x="233">}ニ,</tspan><tspan x="290">､</tspan><tspan x="365">＼ニ|</tspan><tspan x="437">＼＝＝＝=---=＝＝＝)</tspan></text>
<text y="3134"><tspan x="78">／</tspan><tspan x="121">!</tspan><tspan x="197">|</tspan><tspan x="224">/|ニ,</tspan><tspan x="305">,</tspan><tspan x="379">､ﾆ!</tspan><tspan x="451">＼＝＝＝＝＝＝＝＝＝／</tspan></text>
<text class="t" x="713" y="2663">不，我不是人妖。</text>
<text class="t" x="713" y="2699">男朋友或是丈夫的話【1D2:2】</text>
<text class="t" x="50" y="3168">1.有喔</text>
<text class="t r" x="50" y="3188">2.沒有喔</text>
</svg>
</body></html>
